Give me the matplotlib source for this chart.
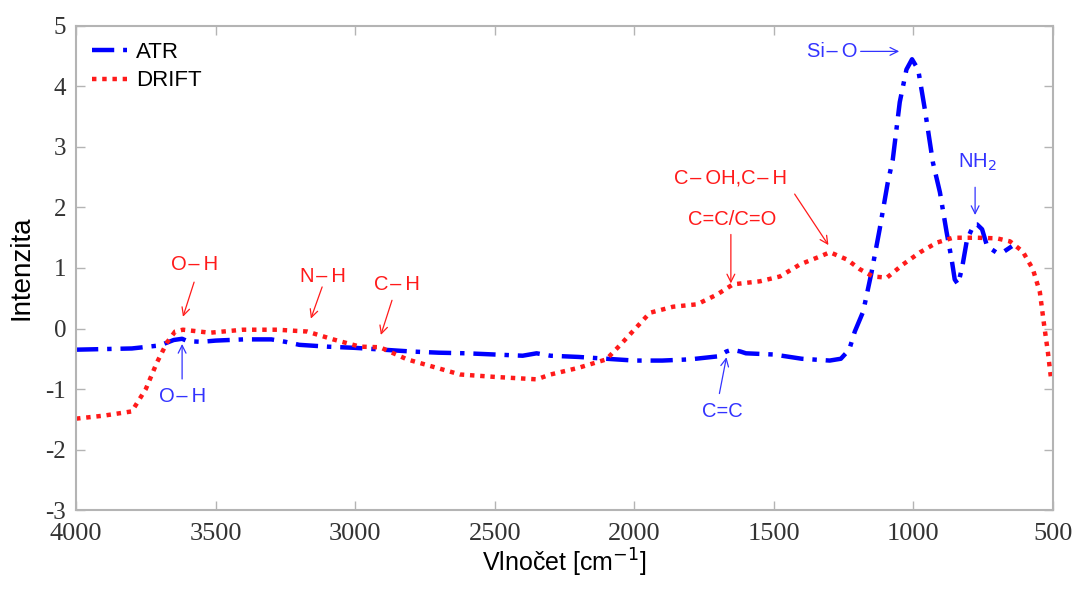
import matplotlib.pyplot as plt

plt.rcParams['axes.unicode_minus'] = False

#### datos
atr_x = [4000, 3900, 3800, 3700, 3650, 3620, 3600, 3550, 3500, 3400, 3300, 3250,
         3200, 3100, 3000, 2900, 2800, 2700, 2600, 2500, 2400, 2350, 2300, 2200,
         2100, 2000, 1900, 1800, 1700, 1670, 1650, 1620, 1600, 1500, 1400, 1300,
         1260, 1230, 1210, 1180, 1150, 1121, 1092, 1074, 1049, 1025, 1005, 983,
         959, 930, 905, 881, 863, 852, 840, 825, 808, 783, 772, 754, 736, 704,
         676, 647]
atr_y = [-0.35, -0.34, -0.33, -0.28, -0.19, -0.17, -0.21, -0.22, -0.20, -0.18,
         -0.18, -0.22, -0.27, -0.30, -0.32, -0.35, -0.38, -0.40, -0.41, -0.43,
         -0.45, -0.41, -0.45, -0.47, -0.50, -0.53, -0.53, -0.51, -0.46, -0.38,
         -0.35, -0.38, -0.41, -0.43, -0.50, -0.53, -0.50, -0.35, -0.05, 0.28,
         0.93, 1.64, 2.41, 2.79, 3.74, 4.28, 4.45, 4.28, 3.62, 2.74, 2.25, 1.59,
         1.14, 0.81, 0.73, 1.02, 1.47, 1.72, 1.72, 1.64, 1.36, 1.26, 1.27, 1.36]

drift_x = [4000, 3900, 3800, 3750, 3710, 3674, 3645, 3617, 3520, 3402, 3280,
           3172, 3079, 2983, 2911, 2814, 2624, 2500, 2350, 2300, 2200, 2100,
           2050, 2000, 1944, 1861, 1775, 1704, 1646, 1550, 1478, 1406, 1335,
           1299, 1238, 1192, 1145, 1095, 1037, 976, 916, 858, 772, 701, 654,
           608, 572, 547, 533, 518, 508]
drift_y = [-1.49, -1.44, -1.37, -1.00, -0.56, -0.23, -0.05, -0.02, -0.07, -0.02,
           -0.02, -0.05, -0.18, -0.30, -0.31, -0.51, -0.76, -0.80, -0.84, -0.76,
           -0.65, -0.51, -0.27, -0.02, 0.26, 0.36, 0.40, 0.56, 0.73, 0.78, 0.86,
           1.06, 1.19, 1.26, 1.14, 0.98, 0.86, 0.84, 1.06, 1.26, 1.42, 1.50,
           1.50, 1.49, 1.44, 1.27, 0.98, 0.60, 0.10, -0.40, -0.79]

# popisky: text, pozice textu, hrot sipky, pocatek sipky, barva
B = "\u200a\u2013\u2009"
popisky = [
    ("O" + B + "H", (3574, 1.06), (3620, 0.15), (3574, 0.81), 'red'),
    ("N" + B + "H", (3115, 0.86), (3162, 0.12), (3115, 0.73), 'red'),
    ("C" + B + "H", (2850, 0.73), (2911, -0.15), (2865, 0.51), 'red'),
    ("O" + B + "H", (3617, -1.12), (3620, -0.21), (3620, -0.88), 'blue'),
    ("C=C", (1686, -1.37), (1668, -0.43), (1697, -1.12), 'blue'),
    ("C" + B + "OH,C" + B + "H", (1657, 2.48), (1299, 1.34), (1431, 2.26), 'red'),
    ("C=C/C=O", (1650, 1.80), (1654, 0.70), (1654, 1.60), 'red'),
    ("NH$_2$", (772, 2.74), (779, 1.83), (779, 2.38), 'blue'),
]

RED = '#ff1a1a'
BLUE = '#0000ff'
ABLUE = '#3333ff'
GRAY = '#b4b4b4'

fig = plt.figure(figsize=(10.77, 5.89), dpi=100)
ax = fig.add_axes([0.0706, 0.1341, 0.9071, 0.8218])

ax.plot(atr_x, atr_y, color=BLUE, lw=3.2, dashes=(5, 2, 1, 2),
        dash_capstyle='butt', label='ATR')
ax.plot(drift_x, drift_y, color=RED, lw=3.2, dashes=(1, 1.3),
        dash_capstyle='butt', label='DRIFT')

for txt, pos, head, tail, c in popisky:
    col = RED if c == 'red' else ABLUE
    ax.text(pos[0], pos[1], txt, color=col, fontsize=14.5,
            family='Liberation Sans', ha='center', va='center')
    ax.annotate('', xy=head, xytext=tail,
                arrowprops=dict(arrowstyle='->', color=col, lw=0.9,
                                mutation_scale=14))

# Si-O s vodorovnou sipkou
ax.text(1292, 4.58, "Si" + B + "O", color=ABLUE, fontsize=14.5,
        family='Liberation Sans', ha='center', va='center')
ax.annotate('', xy=(1041, 4.58), xytext=(1199, 4.58),
            arrowprops=dict(arrowstyle='->', color=ABLUE, lw=0.9,
                            mutation_scale=14))

ax.set_xlim(4000, 500)
ax.set_ylim(-3, 5)
ax.set_xticks(range(4000, 499, -500))
ax.set_yticks(range(-3, 6))

for s in ax.spines.values():
    s.set_color(GRAY)
    s.set_linewidth(1.5)
ax.tick_params(direction='in', length=6.5, width=1, color=GRAY,
               top=True, right=True, labelcolor='#333333')
ax.tick_params(axis='x', pad=9, labelsize=19)
ax.tick_params(axis='y', pad=7, labelsize=18)
for lab in ax.get_xticklabels() + ax.get_yticklabels():
    lab.set_family('Liberation Serif')

ax.set_xlabel('Vlnočet [cm$^{-1}$]', family='Liberation Sans', fontsize=18,
              labelpad=2)
ax.set_ylabel('Intenzita', family='Liberation Sans', fontsize=20, labelpad=8)

leg = ax.legend(loc='upper left', frameon=False,
                handlelength=1.6, handletextpad=0.4, borderaxespad=0.3,
                labelspacing=0.35, prop={'family': 'Liberation Sans', 'size': 16})

fig.savefig('out.png', dpi=100)
